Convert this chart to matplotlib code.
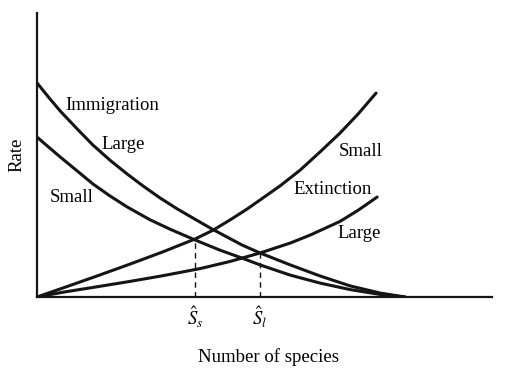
import matplotlib
matplotlib.use("Agg")
import matplotlib.pyplot as plt

plt.rcParams['font.family'] = ['Liberation Serif', 'DejaVu Serif']
plt.rcParams['mathtext.fontset'] = 'stix'

# number of species (x) and rate (y)
imm_large_x = [0, 3.3, 6.3, 10.9, 15.2, 19.8, 24.5, 28.8, 33.4, 38.0, 42.9, 47.6,
               55.7, 60.6, 68.8, 76.9, 85.1, 93.2, 100]
imm_large_y = [75.4, 70.1, 65.5, 59.2, 53.5, 48.2, 43.3, 39.1, 34.9, 31.1, 27.4, 23.9,
               18.3, 15.5, 11.3, 7.4, 3.9, 1.4, 0]

imm_small_x = [0, 6.3, 10.9, 15.2, 19.8, 24.5, 30.7, 36.1, 42.9, 49.7, 55.7, 60.6,
               68.8, 76.9, 85.1, 93.2, 100]
imm_small_y = [56.3, 49.3, 44.4, 39.8, 35.6, 31.7, 27.2, 23.9, 20.1, 16.5, 13.7, 11.3,
               7.7, 4.9, 2.6, 0.9, 0]

ext_small_x = [0, 7.1, 16.3, 25.3, 34.2, 42.9, 47.8, 52.4, 57.1, 61.4, 66.0, 71.5,
               76.9, 82.3, 87.2, 92.1]
ext_small_y = [0, 3.2, 7.4, 11.6, 15.9, 20.4, 23.5, 27.1, 31.0, 34.9, 39.1, 44.7,
               51.1, 57.7, 64.4, 71.8]

ext_large_x = [0, 7.1, 16.3, 25.3, 34.2, 44.3, 52.4, 60.6, 68.8, 74.2, 82.3, 87.3, 92.4]
ext_large_y = [0, 1.7, 3.6, 5.5, 7.5, 10.0, 12.5, 15.5, 19.0, 21.8, 26.6, 30.6, 35.2]

# equilibrium points (species, rate)
eq_small = (42.9, 20.3)
eq_large = (60.6, 15.5)

fig = plt.figure(figsize=(5.24, 3.68), dpi=100)
ax = fig.add_axes([37/524, 71/368, 455/524, 284/368])

line_kw = dict(color='#151515', lw=2.2, solid_capstyle='round', solid_joinstyle='round')
ax.plot(imm_large_x, imm_large_y, **line_kw)
ax.plot(imm_small_x, imm_small_y, **line_kw)
ax.plot(ext_small_x, ext_small_y, **line_kw)
ax.plot(ext_large_x, ext_large_y, **line_kw)

# dashed drops to the equilibria
for sx, sy in [eq_small, eq_large]:
    ax.plot([sx, sx], [0, sy], color='#151515', lw=1.0, ls=(0, (4, 3)))

ax.set_xlim(0, 123.6)
ax.set_ylim(0, 100)
ax.set_xticks([])
ax.set_yticks([])
for side in ['top', 'right']:
    ax.spines[side].set_visible(False)
for side in ['left', 'bottom']:
    ax.spines[side].set_linewidth(1.6)
    ax.spines[side].set_color('#151515')

fs = 13.5
ax.text(20.4, 67.5, 'Immigration', fontsize=fs, ha='center', va='center')
ax.text(23.4, 53.8, 'Large', fontsize=fs, ha='center', va='center')
ax.text(9.3, 35.2, 'Small', fontsize=fs, ha='center', va='center')
ax.text(87.8, 51.4, 'Small', fontsize=fs, ha='center', va='center')
ax.text(80.2, 37.7, 'Extinction', fontsize=fs, ha='center', va='center')
ax.text(87.5, 22.5, 'Large', fontsize=fs, ha='center', va='center')

ax.text(eq_small[0], -2.5, r'$\hat{S}_s$', fontsize=fs, ha='center', va='top')
ax.text(eq_large[0], -2.5, r'$\hat{S}_l$', fontsize=fs, ha='center', va='top')

ax.set_xlabel('Number of species', fontsize=fs)
ax.set_ylabel('Rate', fontsize=fs)
ax.xaxis.set_label_coords(0.508, -0.18)
ax.yaxis.set_label_coords(-0.026, 0.5)

fig.savefig('out.png', dpi=100)
